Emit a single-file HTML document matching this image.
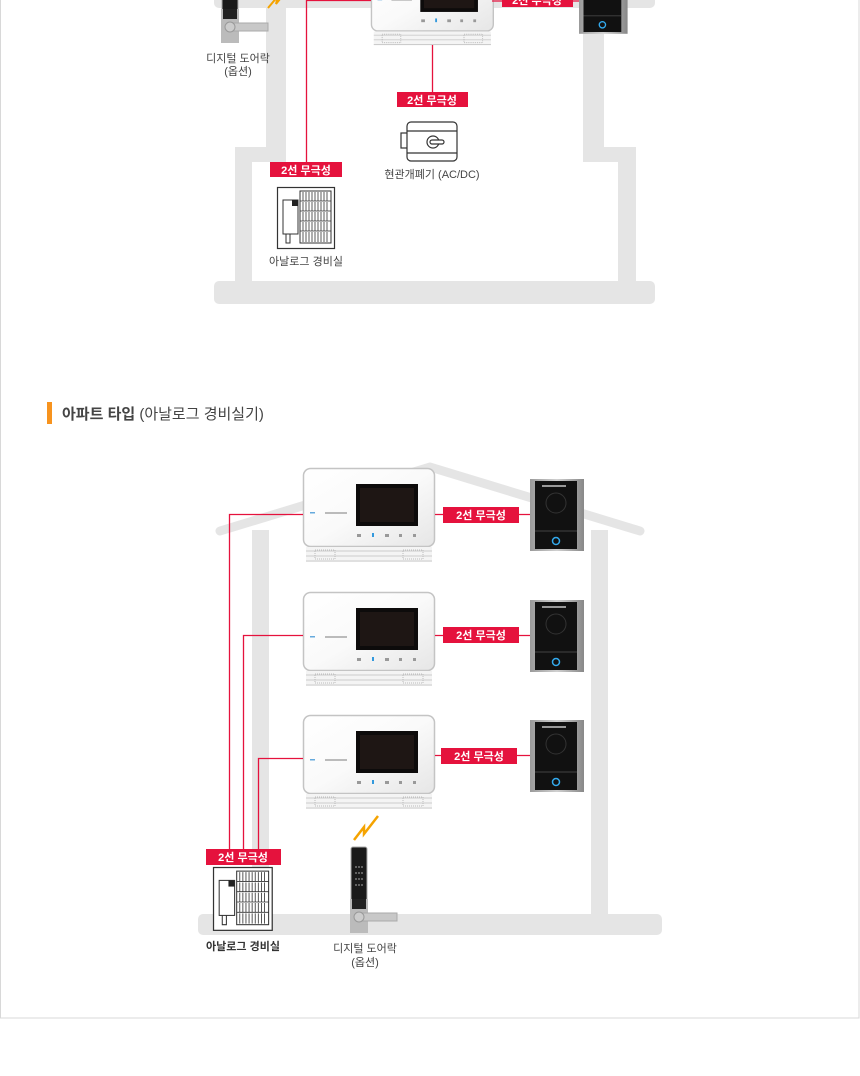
<!DOCTYPE html>
<html><head><meta charset="utf-8"><style>
html,body{margin:0;padding:0;background:#fff;}
svg{display:block;}
text{font-family:"Liberation Sans","Noto Sans CJK KR",sans-serif;}
</style></head><body>
<svg width="860" height="1076" viewBox="0 0 860 1076" xmlns="http://www.w3.org/2000/svg">
<defs>
<linearGradient id="mb" x1="0" y1="0" x2="1" y2="1">
<stop offset="0" stop-color="#fff"/><stop offset="0.5" stop-color="#fafafa"/><stop offset="1" stop-color="#e6e6e6"/>
</linearGradient>
<linearGradient id="dbf" x1="0" y1="0" x2="1" y2="0">
<stop offset="0" stop-color="#9a9a9a"/><stop offset="0.5" stop-color="#d0d0d0"/><stop offset="1" stop-color="#888"/>
</linearGradient>
<g id="mon">
<rect x="0.5" y="0.5" width="131" height="78" rx="7" fill="url(#mb)" stroke="#c4c4c4" stroke-width="1.5"/>
<rect x="53" y="16" width="62" height="42" fill="#0d0b0b"/>
<rect x="57" y="20" width="54" height="34" fill="#1e1614"/>
<rect x="7" y="44" width="5" height="1.5" fill="#6ad"/>
<rect x="22" y="44" width="22" height="2" fill="#bbb"/>
<g fill="#999"><rect x="54" y="66" width="4" height="3"/><rect x="69" y="65" width="2" height="4" fill="#39d"/><rect x="82" y="66" width="4" height="3"/><rect x="96" y="66" width="3" height="3"/><rect x="110" y="66" width="3" height="3"/></g>
<rect x="3" y="79" width="126" height="15" fill="#f4f4f4"/>
<g stroke="#ccc" stroke-width="1"><line x1="3" y1="83" x2="129" y2="83"/><line x1="3" y1="88" x2="129" y2="88"/><line x1="3" y1="93" x2="129" y2="93"/></g>
<rect x="12" y="82" width="20" height="9" fill="none" stroke="#bbb" stroke-dasharray="1 1"/>
<rect x="100" y="82" width="20" height="9" fill="none" stroke="#bbb" stroke-dasharray="1 1"/>
</g>
<g id="db">
<rect x="0" y="0" width="54" height="72" fill="url(#dbf)"/>
<rect x="5" y="2" width="42" height="68" fill="#111"/>
<rect x="12" y="6" width="24" height="2" fill="#999"/>
<circle cx="26" cy="24" r="10" fill="none" stroke="#333"/>
<line x1="5" y1="52" x2="47" y2="52" stroke="#444"/>
<circle cx="26" cy="62" r="3.5" fill="none" stroke="#3ae" stroke-width="1.5"/>
</g>
<g id="guard">
<rect x="0.5" y="0.5" width="57" height="61" fill="#fff" stroke="#333" stroke-width="1.2"/>
<rect x="23" y="4" width="31" height="52" fill="#fff" stroke="#333"/>
<g stroke="#333" stroke-width="0.8">
<line x1="23" y1="14" x2="54" y2="14"/><line x1="23" y1="24" x2="54" y2="24"/><line x1="23" y1="34" x2="54" y2="34"/><line x1="23" y1="44" x2="54" y2="44"/>
<path d="M26 5v9M29 5v9M32 5v9M35 5v9M38 5v9M41 5v9M44 5v9M47 5v9M50 5v9M26 15v9M29 15v9M32 15v9M35 15v9M38 15v9M41 15v9M44 15v9M47 15v9M50 15v9M26 25v9M29 25v9M32 25v9M35 25v9M38 25v9M41 25v9M44 25v9M47 25v9M50 25v9M26 35v9M29 35v9M32 35v9M35 35v9M38 35v9M41 35v9M44 35v9M47 35v9M50 35v9M26 45v10M29 45v10M32 45v10M35 45v10M38 45v10M41 45v10M44 45v10M47 45v10M50 45v10"/>
</g>
<rect x="6" y="13" width="15" height="34" fill="#fff" stroke="#333"/>
<rect x="15" y="13" width="6" height="6" fill="#222"/>
<path d="M9 47v9h4v-9" fill="none" stroke="#333"/>
</g>
<g id="lock">
<rect x="2" y="0" width="16" height="58" rx="2" fill="#1a1a1a" stroke="#aaa"/>
<g fill="#777"><circle cx="7" cy="20" r="1"/><circle cx="10" cy="20" r="1"/><circle cx="13" cy="20" r="1"/><circle cx="7" cy="26" r="1"/><circle cx="10" cy="26" r="1"/><circle cx="13" cy="26" r="1"/><circle cx="7" cy="32" r="1"/><circle cx="10" cy="32" r="1"/><circle cx="13" cy="32" r="1"/><circle cx="7" cy="38" r="1"/><circle cx="10" cy="38" r="1"/><circle cx="13" cy="38" r="1"/></g>
<rect x="1" y="52" width="18" height="34" fill="#bbb"/>
<rect x="3" y="52" width="14" height="10" fill="#222"/>
<rect x="8" y="66" width="40" height="8" fill="#c8c8c8" stroke="#aaa"/>
<circle cx="10" cy="70" r="5" fill="#ccc" stroke="#999"/>
</g>
</defs>

<!-- outer frame -->
<rect x="0.5" y="-5" width="858.5" height="1023" fill="none" stroke="#d8d8d8"/>

<!-- TOP HOUSE -->
<g fill="#e5e5e5">
<rect x="214" y="-12" width="441" height="20" rx="5"/>
<rect x="266" y="0" width="20" height="162"/>
<rect x="583" y="0" width="21" height="162"/>
<rect x="235" y="147" width="51" height="15" rx="4"/>
<rect x="583" y="147" width="53" height="15" rx="4"/>
<rect x="235" y="147" width="17" height="145"/>
<rect x="618" y="147" width="18" height="145"/>
<rect x="214" y="281" width="441" height="23" rx="5"/>
</g>
<!-- top lock -->
<g transform="translate(220,-43)"><use href="#lock"/></g>
<path d="M268 8 L278 -4 L276 4 L284 -6" fill="none" stroke="#f5a300" stroke-width="2"/>
<text x="238" y="62" font-size="11" fill="#444" text-anchor="middle">디지털 도어락</text>
<text x="238" y="75" font-size="11" fill="#444" text-anchor="middle">(옵션)</text>
<!-- top monitor -->
<g transform="translate(371,-42) scale(0.93)"><use href="#mon"/></g>
<g transform="translate(579,-31) scale(0.9)"><use href="#db"/></g>
<!-- top red lines -->
<g stroke="#e5123d" stroke-width="1.3" fill="none">
<line x1="306.5" y1="0" x2="306.5" y2="162"/>
<line x1="306" y1="0.5" x2="371" y2="0.5"/>
<line x1="432.5" y1="45" x2="432.5" y2="92"/>
<line x1="492" y1="1" x2="579" y2="1"/>
</g>
<rect x="502" y="-8" width="71" height="15" fill="#e5123d"/>
<text x="537" y="4" font-size="11" font-weight="bold" fill="#fff" text-anchor="middle">2선 무극성</text>
<rect x="397" y="92" width="71" height="15" fill="#e5123d"/>
<text x="432" y="104" font-size="11" font-weight="bold" fill="#fff" text-anchor="middle">2선 무극성</text>
<rect x="270" y="162" width="72" height="15" fill="#e5123d"/>
<text x="306" y="174" font-size="11" font-weight="bold" fill="#fff" text-anchor="middle">2선 무극성</text>
<!-- strike lock -->
<g fill="#fff" stroke="#333" stroke-width="1.2">
<rect x="401" y="133" width="8" height="15"/>
<rect x="407" y="122" width="50" height="39" rx="4"/>
<line x1="407" y1="131" x2="457" y2="131"/>
<line x1="407" y1="153" x2="457" y2="153"/>
<circle cx="433" cy="142" r="6"/>
<rect x="430" y="140" width="14" height="4" rx="2"/>
</g>
<text x="432" y="178" font-size="11" fill="#444" text-anchor="middle">현관개폐기 (AC/DC)</text>
<g transform="translate(277,187)"><use href="#guard"/></g>
<text x="306" y="265" font-size="11" fill="#444" text-anchor="middle">아날로그 경비실</text>

<!-- header -->
<rect x="47" y="402" width="5" height="22" fill="#f7931e"/>
<text x="62" y="419" font-size="15" fill="#444"><tspan font-weight="bold">아파트 타입</tspan> (아날로그 경비실기)</text>

<!-- BOTTOM HOUSE -->
<polyline points="220,531 430,467 640,531" fill="none" stroke="#e5e5e5" stroke-width="9" stroke-linecap="round" stroke-linejoin="round"/>
<g fill="#e5e5e5">
<rect x="252" y="530" width="17" height="390"/>
<rect x="591" y="530" width="17" height="390"/>
<rect x="198" y="914" width="464" height="21" rx="5"/>
</g>
<!-- monitors -->
<g transform="translate(303,468)"><use href="#mon"/></g>
<g transform="translate(303,592)"><use href="#mon"/></g>
<g transform="translate(303,715)"><use href="#mon"/></g>
<g transform="translate(530,479)"><use href="#db"/></g>
<g transform="translate(530,600)"><use href="#db"/></g>
<g transform="translate(530,720)"><use href="#db"/></g>
<g stroke="#e5123d" stroke-width="1.3" fill="none">
<line x1="435" y1="514.5" x2="530" y2="514.5"/>
<line x1="435" y1="635.5" x2="530" y2="635.5"/>
<line x1="435" y1="755.5" x2="530" y2="755.5"/>
<polyline points="303,514.5 229.5,514.5 229.5,849"/>
<polyline points="303,635.5 243.5,635.5 243.5,849"/>
<polyline points="303,758.5 258.5,758.5 258.5,849"/>
</g>
<rect x="443" y="507" width="76" height="16" fill="#e5123d"/>
<text x="481" y="519" font-size="11" font-weight="bold" fill="#fff" text-anchor="middle">2선 무극성</text>
<rect x="443" y="627" width="76" height="16" fill="#e5123d"/>
<text x="481" y="639" font-size="11" font-weight="bold" fill="#fff" text-anchor="middle">2선 무극성</text>
<rect x="441" y="748" width="76" height="16" fill="#e5123d"/>
<text x="479" y="760" font-size="11" font-weight="bold" fill="#fff" text-anchor="middle">2선 무극성</text>
<rect x="206" y="849" width="75" height="16" fill="#e5123d"/>
<text x="243" y="861" font-size="11" font-weight="bold" fill="#fff" text-anchor="middle">2선 무극성</text>
<g transform="translate(213,867) scale(1.03,1.03)"><use href="#guard"/></g>
<text x="243" y="950" font-size="11" font-weight="bold" fill="#333" text-anchor="middle">아날로그 경비실</text>
<path d="M354 840 L364 827 L364 834 L378 816" fill="none" stroke="#f5a300" stroke-width="2.5"/>
<g transform="translate(349,847)"><use href="#lock"/></g>
<text x="365" y="952" font-size="11" fill="#444" text-anchor="middle">디지털 도어락</text>
<text x="365" y="966" font-size="11" fill="#444" text-anchor="middle">(옵션)</text>
</svg>
</body></html>
